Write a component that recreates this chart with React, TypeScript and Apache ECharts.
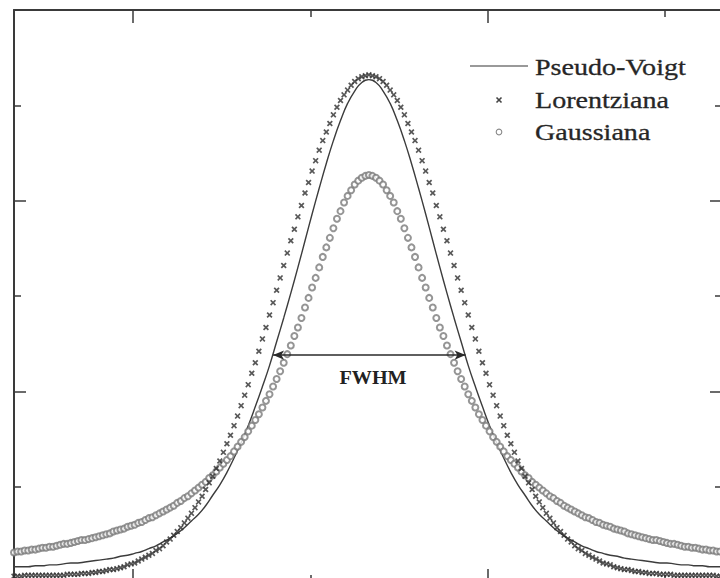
import React, { useEffect, useRef } from "react";
import * as echarts from "echarts";

// ---- Data ----
const SERIES_NAMES = ["Pseudo-Voigt", "Lorentziana", "Gaussiana"];

const X_MIN = 3.3;
const X_MAX = 43.2;
const Y_MIN = 0;
const Y_MAX = 6;
const X_MAJOR_TICKS = [10, 30];
const X_MINOR_TICKS = [20, 40];
const Y_MAJOR_TICKS = [2, 4];
const Y_MINOR_TICKS = [1, 3, 5];

// sampling of the curves along x
const MARKER_X_START = 3.3;
const MARKER_X_STEP = 0.2;
const LINE_X_START = 3.3;
const LINE_X_STEP = 0.4;

// Pseudo-Voigt (solid line)
const pseudoVoigt = [
  0.16, 0.16, 0.16, 0.17, 0.17, 0.18, 0.18, 0.19, 0.2, 0.2,
  0.21, 0.22, 0.23, 0.24, 0.25, 0.27, 0.28, 0.3, 0.32, 0.35,
  0.38, 0.42, 0.46, 0.51, 0.57, 0.64, 0.71, 0.8, 0.91, 1.02,
  1.15, 1.3, 1.46, 1.64, 1.84, 2.05, 2.27, 2.52, 2.77, 3.03,
  3.3, 3.58, 3.86, 4.13, 4.39, 4.63, 4.84, 5.02, 5.15, 5.24,
  5.27,
  5.24, 5.15, 5.02, 4.84, 4.63, 4.39, 4.13, 3.86, 3.58, 3.3,
  3.03, 2.77, 2.52, 2.27, 2.05, 1.84, 1.64, 1.46, 1.3, 1.15,
  1.02, 0.91, 0.8, 0.71, 0.64, 0.57, 0.51, 0.46, 0.42, 0.38,
  0.35, 0.32, 0.3, 0.28, 0.27, 0.25, 0.24, 0.23, 0.22, 0.21,
  0.2, 0.2, 0.19, 0.18, 0.18, 0.17, 0.17, 0.16, 0.16, 0.16,
];

// "Lorentziana" (x markers)
const lorentziana = [
  0.06, 0.06, 0.06, 0.07, 0.07, 0.07, 0.07, 0.07, 0.07, 0.07,
  0.07, 0.07, 0.07, 0.07, 0.07, 0.08, 0.08, 0.08, 0.08, 0.09,
  0.09, 0.09, 0.1, 0.1, 0.11, 0.11, 0.12, 0.13, 0.13, 0.14,
  0.15, 0.16, 0.18, 0.19, 0.2, 0.22, 0.24, 0.26, 0.28, 0.3,
  0.33, 0.35, 0.38, 0.42, 0.45, 0.49, 0.53, 0.57, 0.62, 0.67,
  0.72, 0.78, 0.84, 0.9, 0.97, 1.04, 1.11, 1.19, 1.27, 1.36,
  1.45, 1.54, 1.64, 1.74, 1.85, 1.96, 2.07, 2.19, 2.3, 2.42,
  2.55, 2.67, 2.8, 2.93, 3.06, 3.19, 3.32, 3.45, 3.58, 3.7,
  3.83, 3.95, 4.08, 4.19, 4.31, 4.42, 4.53, 4.63, 4.72, 4.81,
  4.9, 4.98, 5.05, 5.11, 5.16, 5.21, 5.25, 5.28, 5.3, 5.31,
  5.32,
  5.31, 5.3, 5.28, 5.25, 5.21, 5.16, 5.11, 5.05, 4.98, 4.9,
  4.81, 4.72, 4.63, 4.53, 4.42, 4.31, 4.19, 4.08, 3.95, 3.83,
  3.7, 3.58, 3.45, 3.32, 3.19, 3.06, 2.93, 2.8, 2.67, 2.55,
  2.42, 2.3, 2.19, 2.07, 1.96, 1.85, 1.74, 1.64, 1.54, 1.45,
  1.36, 1.27, 1.19, 1.11, 1.04, 0.97, 0.9, 0.84, 0.78, 0.72,
  0.67, 0.62, 0.57, 0.53, 0.49, 0.45, 0.42, 0.38, 0.35, 0.33,
  0.3, 0.28, 0.26, 0.24, 0.22, 0.2, 0.19, 0.18, 0.16, 0.15,
  0.14, 0.13, 0.13, 0.12, 0.11, 0.11, 0.1, 0.1, 0.09, 0.09,
  0.09, 0.08, 0.08, 0.08, 0.08, 0.07, 0.07, 0.07, 0.07, 0.07,
  0.07, 0.07, 0.07, 0.07, 0.07, 0.07, 0.07, 0.06, 0.06, 0.06,
];

// "Gaussiana" (open circles)
const gaussiana = [
  0.31, 0.32, 0.32, 0.33, 0.33, 0.34, 0.34, 0.35, 0.36, 0.36,
  0.37, 0.37, 0.38, 0.39, 0.4, 0.4, 0.41, 0.42, 0.43, 0.44,
  0.44, 0.45, 0.46, 0.47, 0.48, 0.49, 0.5, 0.51, 0.53, 0.54,
  0.55, 0.56, 0.58, 0.59, 0.6, 0.62, 0.63, 0.65, 0.67, 0.68,
  0.7, 0.72, 0.74, 0.76, 0.78, 0.8, 0.83, 0.85, 0.88, 0.9,
  0.93, 0.96, 0.99, 1.02, 1.05, 1.09, 1.12, 1.16, 1.2, 1.24,
  1.28, 1.32, 1.37, 1.42, 1.47, 1.52, 1.58, 1.64, 1.7, 1.76,
  1.83, 1.9, 1.97, 2.05, 2.13, 2.21, 2.3, 2.39, 2.48, 2.58,
  2.67, 2.77, 2.88, 2.98, 3.09, 3.19, 3.3, 3.41, 3.51, 3.61,
  3.71, 3.81, 3.89, 3.98, 4.05, 4.11, 4.17, 4.21, 4.24, 4.26,
  4.27,
  4.26, 4.24, 4.21, 4.17, 4.11, 4.05, 3.98, 3.89, 3.81, 3.71,
  3.61, 3.51, 3.41, 3.3, 3.19, 3.09, 2.98, 2.88, 2.77, 2.67,
  2.58, 2.48, 2.39, 2.3, 2.21, 2.13, 2.05, 1.97, 1.9, 1.83,
  1.76, 1.7, 1.64, 1.58, 1.52, 1.47, 1.42, 1.37, 1.32, 1.28,
  1.24, 1.2, 1.16, 1.12, 1.09, 1.05, 1.02, 0.99, 0.96, 0.93,
  0.9, 0.88, 0.85, 0.83, 0.8, 0.78, 0.76, 0.74, 0.72, 0.7,
  0.68, 0.67, 0.65, 0.63, 0.62, 0.6, 0.59, 0.58, 0.56, 0.55,
  0.54, 0.53, 0.51, 0.5, 0.49, 0.48, 0.47, 0.46, 0.45, 0.44,
  0.44, 0.43, 0.42, 0.41, 0.4, 0.4, 0.39, 0.38, 0.37, 0.37,
  0.36, 0.36, 0.35, 0.34, 0.34, 0.33, 0.33, 0.32, 0.32, 0.31,
];

// FWHM arrow (data coordinates)
const FWHM_LEFT = 17.9;
const FWHM_RIGHT = 28.75;
const FWHM_LEVEL = 2.38;
const FWHM_TEXT = "FWHM";

const CROSS_SYMBOL =
  "path://M0,2L2,0L5,3L8,0L10,2L7,5L10,8L8,10L5,7L2,10L0,8L3,5Z";

const FRAME = "#3a3a3a";
const SERIF = "'Liberation Serif', 'DejaVu Serif', serif";

function pairs(start: number, step: number, values: number[]) {
  return values.map((v, i) => [Number((start + i * step).toFixed(4)), v]);
}

function xAxisDef(position: "top" | "bottom", ticks: number[], len: number, line: boolean) {
  return {
    type: "value",
    position,
    min: X_MIN,
    max: X_MAX,
    axisLine: { show: line, onZero: false, lineStyle: { color: FRAME, width: 2 } },
    axisTick: { show: true, inside: true, length: len, customValues: ticks, lineStyle: { color: FRAME, width: 1.5 } },
    axisLabel: { show: false },
    splitLine: { show: false },
  };
}

function yAxisDef(position: "left" | "right", ticks: number[], len: number, line: boolean) {
  return {
    type: "value",
    position,
    min: Y_MIN,
    max: Y_MAX,
    interval: 1,
    axisLine: { show: line, onZero: false, lineStyle: { color: FRAME, width: 2 } },
    axisTick: { show: true, inside: true, length: len, customValues: ticks, lineStyle: { color: FRAME, width: 1.5 } },
    axisLabel: { show: false },
    splitLine: { show: false },
  };
}

export default function App() {
  const ref = useRef<HTMLDivElement>(null);

  useEffect(() => {
    if (!ref.current) return;
    const chart = echarts.init(ref.current, null, { renderer: "svg" });

    const legendText = (text: string, y: number) => ({
      type: "text",
      x: 535,
      y,
      scaleX: 1.17,
      style: {
        text,
        fontSize: 24,
        fontFamily: SERIF,
        fill: "#262626",
        stroke: "#262626",
        lineWidth: 0.3,
        textAlign: "left",
        textVerticalAlign: "middle",
        verticalAlign: "middle",
      },
    });

    chart.setOption({
      animation: false,
      backgroundColor: "#ffffff",
      grid: { left: 14, top: 10, width: 708, height: 572, show: false, outerBoundsMode: "none" },
      xAxis: [
        xAxisDef("bottom", X_MAJOR_TICKS, 13, true),
        xAxisDef("bottom", X_MINOR_TICKS, 7, false),
        xAxisDef("top", X_MAJOR_TICKS, 13, true),
        xAxisDef("top", X_MINOR_TICKS, 7, false),
      ],
      yAxis: [
        yAxisDef("left", Y_MAJOR_TICKS, 12, true),
        yAxisDef("left", Y_MINOR_TICKS, 7, false),
        yAxisDef("right", Y_MAJOR_TICKS, 12, true),
        yAxisDef("right", Y_MINOR_TICKS, 7, false),
      ],
      series: [
        {
          name: SERIES_NAMES[0],
          type: "line",
          xAxisIndex: 0,
          yAxisIndex: 0,
          data: pairs(LINE_X_START, LINE_X_STEP, pseudoVoigt),
          showSymbol: false,
          smooth: true,
          lineStyle: { color: "#3c3c3c", width: 1.4 },
          z: 3,
          markLine: {
            silent: true,
            animation: false,
            symbol: ["arrow", "arrow"],
            symbolSize: [7, 11],
            lineStyle: { color: "#2a2a2a", width: 1.5, type: "solid" },
            label: { show: false },
            data: [[{ coord: [FWHM_LEFT, FWHM_LEVEL] }, { coord: [FWHM_RIGHT, FWHM_LEVEL] }]],
          },
        },
        {
          name: SERIES_NAMES[2],
          type: "scatter",
          xAxisIndex: 0,
          yAxisIndex: 0,
          data: pairs(MARKER_X_START, MARKER_X_STEP, gaussiana),
          symbol: "emptyCircle",
          symbolSize: 6,
          itemStyle: { color: "#7a7a7a", borderColor: "#7a7a7a", borderWidth: 1.1 },
          z: 4,
        },
        {
          name: SERIES_NAMES[1],
          type: "scatter",
          xAxisIndex: 0,
          yAxisIndex: 0,
          data: pairs(MARKER_X_START, MARKER_X_STEP, lorentziana),
          symbol: CROSS_SYMBOL,
          symbolSize: 6,
          itemStyle: { color: "#2e2e2e" },
          z: 5,
        },
      ],
      graphic: [
        { type: "line", shape: { x1: 470, y1: 66, x2: 528, y2: 66 }, style: { stroke: "#777", lineWidth: 1.5 } },
        legendText(SERIES_NAMES[0], 67),
        { type: "line", shape: { x1: 496.5, y1: 97.5, x2: 501.5, y2: 102.5 }, style: { stroke: "#444", lineWidth: 1.6 } },
        { type: "line", shape: { x1: 496.5, y1: 102.5, x2: 501.5, y2: 97.5 }, style: { stroke: "#444", lineWidth: 1.6 } },
        legendText(SERIES_NAMES[1], 100),
        { type: "circle", shape: { cx: 499, cy: 132, r: 2.8 }, style: { fill: "#fff", stroke: "#888", lineWidth: 1.1 } },
        legendText(SERIES_NAMES[2], 132),
        {
          type: "text",
          x: 373,
          y: 378,
          scaleX: 1.06,
          style: {
            text: FWHM_TEXT,
            fontSize: 19,
            fontWeight: "bold",
            fontFamily: SERIF,
            fill: "#222",
            textAlign: "center",
            textVerticalAlign: "middle",
            verticalAlign: "middle",
          },
        },
      ],
    });

    return () => chart.dispose();
  }, []);

  return (
    <div
      ref={ref}
      style={{ position: "fixed", left: 0, top: 0, width: 740, height: 600, background: "#fff" }}
    />
  );
}
